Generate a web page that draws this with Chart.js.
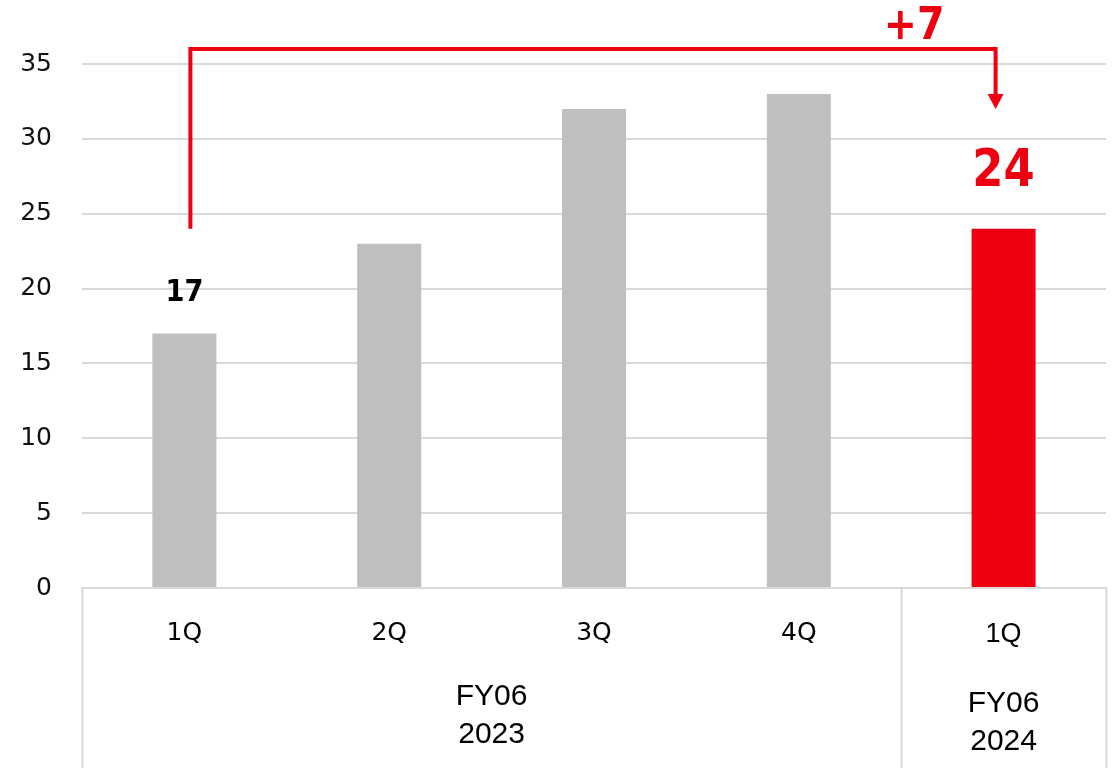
<!DOCTYPE html>
<html>
<head>
<meta charset="utf-8">
<script src="https://cdn.jsdelivr.net/npm/chart.js@4"></script>
<style>
    html, body { margin: 0; padding: 0; background: #ffffff; }
    #wrap { width: 1117px; height: 768px; position: relative; }
</style>
</head>
<body>
<div id="wrap"><canvas id="qChart"></canvas></div>
<script>
const quarters = ['1Q', '2Q', '3Q', '4Q', '1Q'];
const values = [17, 23, 32, 33, 24];
const yTicks = [0, 5, 10, 15, 20, 25, 30, 35];
const yearGroups = [['FY06', '2023'], ['FY06', '2024']];
const yearSpans = [4, 1];

const RED = '#ee0011';
const GRAY = '#bfbfbf';
const LINE = '#d9d9d9';

// compare first quarter of each year
const fromIdx = 0;
const toIdx = 4;

const barColors = values.map(function (v, i) { return i === toIdx ? RED : GRAY; });

// value labels shown above selected bars
const valueLabels = [
    { index: fromIdx, size: 31, color: '#000000', gap: 32 },
    { index: toIdx, size: 51, color: RED, gap: 43 }
];

function boldText(ctx, text, x, y, size, color, align) {
    ctx.save();
    ctx.font = 'bold ' + size + 'px "DejaVu Sans"';
    ctx.fillStyle = color;
    ctx.textAlign = align || 'center';
    ctx.textBaseline = 'alphabetic';
    ctx.translate(x, y);
    ctx.scale(0.88, 1);
    ctx.fillText(text, 0, 0);
    ctx.restore();
}

const tablePlugin = {
    id: 'tablePlugin',
    afterDraw: function (chart) {
        const ctx = chart.ctx;
        const area = chart.chartArea;
        const xs = chart.scales.x;
        const step = (area.right - area.left) / quarters.length;
        const h = chart.height;

        // grid of the category table below the axis
        ctx.save();
        ctx.strokeStyle = LINE;
        ctx.lineWidth = 2;
        let start = 0;
        const edges = [area.left];
        yearSpans.forEach(function (n) {
            start += n;
            edges.push(area.left + start * step);
        });
        edges.forEach(function (x) {
            ctx.beginPath();
            ctx.moveTo(Math.round(x) + 0.5, area.bottom);
            ctx.lineTo(Math.round(x) + 0.5, h);
            ctx.stroke();
        });
        ctx.restore();

        // year group labels
        const groupBase = [705, 712];
        ctx.save();
        ctx.font = '30px "Liberation Sans"';
        ctx.fillStyle = '#000000';
        ctx.textAlign = 'center';
        ctx.textBaseline = 'alphabetic';
        yearGroups.forEach(function (lines, g) {
            const cx = (edges[g] + edges[g + 1]) / 2;
            lines.forEach(function (t, k) {
                ctx.fillText(t, cx, groupBase[g] + k * 38);
            });
        });
        ctx.restore();

        // value labels
        const meta = chart.getDatasetMeta(0);
        valueLabels.forEach(function (l) {
            const bar = meta.data[l.index];
            boldText(ctx, String(values[l.index]), bar.x, bar.y - l.gap, l.size, l.color);
        });

        // change bracket with arrow
        const ys = chart.scales.y;
        const x1 = xs.getPixelForValue(fromIdx) + 6;
        const x2 = xs.getPixelForValue(toIdx) - 8;
        const yBase = ys.getPixelForValue(24);
        const yTop = ys.getPixelForValue(36);
        const yTip = ys.getPixelForValue(32);
        ctx.save();
        ctx.strokeStyle = RED;
        ctx.fillStyle = RED;
        ctx.lineWidth = 4;
        ctx.lineJoin = 'miter';
        ctx.beginPath();
        ctx.moveTo(x1, yBase);
        ctx.lineTo(x1, yTop);
        ctx.lineTo(x2, yTop);
        ctx.lineTo(x2, yTip - 12);
        ctx.stroke();
        ctx.beginPath();
        ctx.moveTo(x2 - 8, yTip - 15);
        ctx.lineTo(x2 + 8, yTip - 15);
        ctx.lineTo(x2, yTip);
        ctx.closePath();
        ctx.fill();
        ctx.restore();

        const diff = values[toIdx] - values[fromIdx];
        boldText(ctx, (diff >= 0 ? '+' : '') + diff, x2 - 51, yTop - 10, 45, RED, 'right');
    }
};

new Chart(document.getElementById('qChart'), {
    type: 'bar',
    data: {
        labels: quarters,
        datasets: [{
            data: values,
            backgroundColor: barColors,
            borderWidth: 0,
            categoryPercentage: 1,
            barPercentage: 0.3125
        }]
    },
    options: {
        responsive: true,
        maintainAspectRatio: false,
        animation: false,
        layout: {
            padding: { top: 64, right: 11, left: 0, bottom: 0 }
        },
        plugins: {
            legend: { display: false },
            tooltip: { enabled: false }
        },
        scales: {
            x: {
                grid: { display: false },
                border: { color: LINE, width: 2 },
                ticks: {
                    color: '#000000',
                    padding: 22,
                    font: function (c) {
                        return c.index === toIdx
                            ? { family: 'Liberation Sans', size: 27 }
                            : { family: 'DejaVu Sans', size: 25 };
                    }
                },
                afterFit: function (scale) { scale.height = 180; }
            },
            y: {
                min: 0,
                max: yTicks[yTicks.length - 1],
                afterBuildTicks: function (scale) {
                    scale.ticks = yTicks.map(function (v) { return { value: v }; });
                },
                border: { display: false },
                grid: { color: LINE, lineWidth: 2, drawTicks: false },
                ticks: {
                    color: '#111111',
                    padding: 30,
                    font: { family: 'DejaVu Sans', size: 25 }
                },
                afterFit: function (scale) { scale.width = 82; }
            }
        }
    },
    plugins: [tablePlugin]
});
</script>
</body>
</html>
